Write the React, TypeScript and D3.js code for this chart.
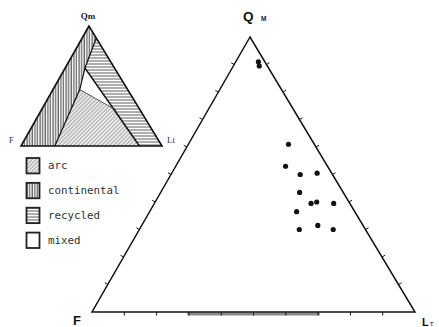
import React from "react";
import * as d3 from "d3";

// Sample compositions, percent Qm / F / Lt
const qmValues = [91, 89.5, 61, 53, 50, 50.5, 43.5, 39.5, 40, 39.5, 36.5, 30, 31.5, 30];
const fValues = [2, 2.5, 8, 13, 10, 4.5, 13.5, 12, 10, 5, 18, 20.5, 14, 10];
const ltValues = [7, 8, 31, 34, 40, 45, 43, 48.5, 50, 55.5, 45.5, 49.5, 54.5, 60];

// Provenance field vertices for the inset, percent Qm / F / Lt
const fieldVertex = {
  R1: [90, 0, 10],
  P: [65, 21, 14],
  Q: [47, 34, 19],
  S: [30, 17, 53],
  B1: [0, 76, 24],
  B2: [0, 16, 84],
  A: [100, 0, 0],
  F: [0, 100, 0],
  L: [0, 0, 100],
};
const continentalField = ["F", "A", "R1", "P", "Q", "B1"];
const recycledField = ["R1", "L", "B2", "P"];
const arcField = ["B1", "Q", "S", "B2"];

const legendLabels = ["arc", "continental", "recycled", "mixed"];
const legendFills = ["url(#hatchArc)", "url(#hatchCont)", "url(#hatchRec)", "#fff"];

const tickSteps = d3.range(10, 100, 10);

type Geo = { ax: number; ay: number; fx: number; lx: number; by: number };

function makeProjection(g: Geo) {
  const apexFrac = (g.ax - g.fx) / (g.lx - g.fx);
  const xs = d3.scaleLinear().domain([0, 100]).range([g.fx, g.lx]);
  const ys = d3.scaleLinear().domain([0, 100]).range([g.by, g.ay]);
  return (qm: number, f: number, lt: number) => {
    const s = qm + f + lt;
    const q = (qm / s) * 100;
    const l = (lt / s) * 100;
    return [xs(l + q * apexFrac), ys(q)] as [number, number];
  };
}

const mainGeo: Geo = { ax: 250, ay: 37, fx: 92, lx: 415, by: 312 };
const insetGeo: Geo = { ax: 89, ay: 26, fx: 21, lx: 162, by: 146 };

export default function App() {
  const proj = makeProjection(mainGeo);
  const iproj = makeProjection(insetGeo);
  const line = d3.line();

  const A = proj(100, 0, 0);
  const F = proj(0, 100, 0);
  const L = proj(0, 0, 100);

  const tickLen = 3.5;
  // short ticks every 10 %, pointing away from the triangle
  const ticks: string[] = [];
  tickSteps.forEach((t) => {
    const pl = proj(t, 100 - t, 0);
    ticks.push(`M${pl[0]},${pl[1]}l${-tickLen * 0.87},${-tickLen * 0.5}`);
    const pr = proj(t, 0, 100 - t);
    ticks.push(`M${pr[0]},${pr[1]}l${tickLen * 0.87},${-tickLen * 0.5}`);
    const pb = proj(0, 100 - t, t);
    ticks.push(`M${pb[0]},${pb[1]}l0,${tickLen}`);
  });

  const barStart = proj(0, 70.5, 29.5);
  const barEnd = proj(0, 29.5, 70.5);

  const poly = (names: string[]) =>
    line(names.map((n) => iproj(...((fieldVertex as any)[n] as [number, number, number]))))!;

  const iA = iproj(100, 0, 0);
  const iF = iproj(0, 100, 0);
  const iL = iproj(0, 0, 100);

  const legendY = d3.scaleBand().domain(legendLabels).range([158, 248]).paddingInner(0.38);

  return (
    <svg width={439} height={327} style={{ position: "absolute", left: 0, top: 0, background: "#fff" }}>
      <defs>
        <pattern id="hatchCont" width={2.6} height={4} patternUnits="userSpaceOnUse">
          <line x1={1} y1={0} x2={1} y2={4} stroke="#222" strokeWidth={0.9} />
        </pattern>
        <pattern id="hatchRec" width={4} height={3} patternUnits="userSpaceOnUse">
          <line x1={0} y1={1} x2={4} y2={1} stroke="#333" strokeWidth={0.8} />
        </pattern>
        <pattern
          id="hatchArc"
          width={3}
          height={2.8}
          patternUnits="userSpaceOnUse"
          patternTransform="rotate(-45)"
        >
          <line x1={0} y1={1} x2={3} y2={1} stroke="#555" strokeWidth={0.75} />
        </pattern>
      </defs>

      {/* Inset: provenance fields */}
      <g>
        <path d={poly(continentalField) + "Z"} fill="url(#hatchCont)" />
        <path d={poly(recycledField) + "Z"} fill="url(#hatchRec)" />
        <path d={poly(arcField) + "Z"} fill="url(#hatchArc)" />
        <path d={poly(["R1", "P", "Q", "B1"])} fill="none" stroke="#111" strokeWidth={1.2} />
        <path d={poly(["P", "B2"])} fill="none" stroke="#111" strokeWidth={1.4} />
        <path d={poly(["Q", "S"])} fill="none" stroke="#333" strokeWidth={0.8} />
        <path
          d={line([iA, iF, iL])! + "Z"}
          fill="none"
          stroke="#111"
          strokeWidth={1.6}
          strokeLinejoin="miter"
        />
        <text x={iA[0] - 1} y={iA[1] - 7} textAnchor="middle" fontFamily="Liberation Serif" fontWeight="bold" fontSize={9} fill="#222">
          Qm
        </text>
        <text x={iF[0] - 12} y={iF[1] - 3} fontFamily="Liberation Serif" fontSize={8} fill="#333">
          F
        </text>
        <text x={iL[0] + 5} y={iL[1] - 3} fontFamily="Liberation Serif" fontSize={9} fill="#333">
          Lt
        </text>
      </g>

      {/* Legend */}
      <g>
        {legendLabels.map((lab, i) => {
          const y = legendY(lab)!;
          return (
            <g key={lab}>
              <rect x={26.5} y={y} width={13} height={legendY.bandwidth()} fill={legendFills[i]} stroke="#222" strokeWidth={1.8} />
              <text
                x={48}
                y={y + legendY.bandwidth() / 2 + 3.5}
                fontFamily="DejaVu Sans Mono"
                fontSize={10.8}
                fill="#333"
              >
                {lab}
              </text>
            </g>
          );
        })}
      </g>

      {/* Main ternary diagram */}
      <g>
        <rect
          x={barStart[0]}
          y={barStart[1] + 0.5}
          width={barEnd[0] - barStart[0]}
          height={3}
          fill="#8a8a8a"
        />
        <path d={line([A, F, L])! + "Z"} fill="none" stroke="#111" strokeWidth={1.5} strokeLinejoin="miter" />
        <path d={ticks.join("")} stroke="#111" strokeWidth={1} fill="none" />
        {qmValues.map((q, i) => {
          const [x, y] = proj(q, fValues[i], ltValues[i]);
          return <circle key={i} cx={x} cy={y} r={2.6} fill="#111" />;
        })}
        <text x={A[0] - 7} y={A[1] - 16} fontFamily="Liberation Sans" fontWeight="bold" fontSize={13.5} fill="#111">
          Q
        </text>
        <text x={A[0] + 11} y={A[1] - 16} fontFamily="Liberation Sans" fontWeight="bold" fontSize={6.5} fill="#222">
          M
        </text>
        <text x={F[0] - 19} y={F[1] + 13} fontFamily="Liberation Sans" fontWeight="bold" fontSize={13} fill="#111">
          F
        </text>
        <text x={L[0] + 7} y={L[1] + 13.5} fontFamily="Liberation Sans" fontWeight="bold" fontSize={11} fill="#111">
          L
        </text>
        <text x={L[0] + 15} y={L[1] + 13.5} fontFamily="Liberation Sans" fontWeight="bold" fontSize={5.5} fill="#444">
          T
        </text>
      </g>
    </svg>
  );
}
